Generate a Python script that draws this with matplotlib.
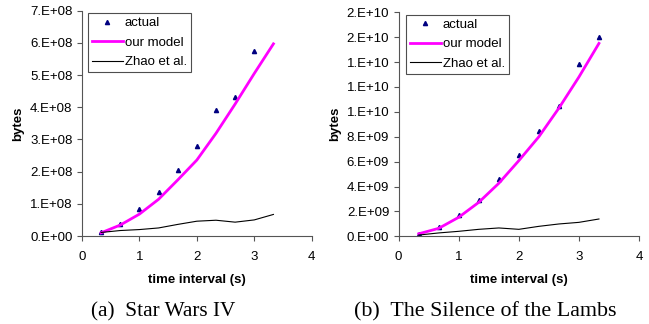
import matplotlib
matplotlib.use("Agg")
import matplotlib.pyplot as plt
from matplotlib.ticker import FuncFormatter, MultipleLocator

# time intervals (s)
t_actual = [1/3, 2/3, 1, 4/3, 5/3, 2, 7/3, 8/3, 3]
t_model = [1/3, 2/3, 1, 4/3, 5/3, 2, 7/3, 8/3, 3, 10/3]

# Star Wars IV (bytes)
sw_actual = [1.1e7, 3.8e7, 8.3e7, 1.37e8, 2.05e8, 2.8e8, 3.9e8, 4.32e8, 5.75e8]
sw_model = [1.0e7, 3.4e7, 6.8e7, 1.14e8, 1.74e8, 2.36e8, 3.19e8, 4.10e8, 5.05e8, 5.97e8]
sw_zhao = [1.1e7, 1.7e7, 2.0e7, 2.5e7, 3.6e7, 4.6e7, 4.9e7, 4.3e7, 5.0e7, 6.7e7]

# The Silence of the Lambs (bytes)
sl_t_actual = [1/3, 2/3, 1, 4/3, 5/3, 2, 7/3, 8/3, 3, 10/3]
sl_actual = [0.16e9, 0.75e9, 1.71e9, 2.95e9, 4.6e9, 6.56e9, 8.46e9, 10.5e9, 13.85e9, 16.0e9]
sl_model = [0.2e9, 0.64e9, 1.53e9, 2.73e9, 4.26e9, 6.08e9, 8.0e9, 10.3e9, 12.8e9, 15.5e9]
sl_zhao = [0.1e9, 0.27e9, 0.4e9, 0.56e9, 0.67e9, 0.56e9, 0.8e9, 0.99e9, 1.12e9, 1.39e9]

captions = ["(a)  Star Wars IV", "(b)  The Silence of the Lambs"]

plt.rcParams["font.family"] = ["Liberation Sans", "DejaVu Sans"]

fig = plt.figure(figsize=(6.49, 3.24), dpi=100)
ax1 = fig.add_axes([0.1263, 0.2716, 0.354, 0.6954])
ax2 = fig.add_axes([0.6143, 0.2707, 0.3703, 0.6914])

sci = FuncFormatter(lambda v, p: format(v, "#.0E"))


def draw(ax, ta, actual, model, zhao, ymax, ystep, leg_x):
    ax.plot(ta, actual, linestyle="none", marker="^", markersize=3.0,
            color="#000080", label="actual")
    ax.plot(t_model, model, color="#FF00FF", lw=2.0, label="our model")
    ax.plot(t_model, zhao, color="black", lw=0.8, label="Zhao et al.")
    ax.set_xlim(0, 4)
    ax.set_ylim(0, ymax)
    ax.xaxis.set_major_locator(MultipleLocator(1))
    ax.yaxis.set_major_locator(MultipleLocator(ystep))
    ax.yaxis.set_major_formatter(sci)
    for s in ("top", "right"):
        ax.spines[s].set_visible(False)
    for s in ("left", "bottom"):
        ax.spines[s].set_color("#555555")
        ax.spines[s].set_linewidth(0.8)
    ax.tick_params(direction="out", length=3.5, width=0.8, color="#555555",
                   labelsize=9.5)
    ax.tick_params(axis="y", pad=3.3)
    ax.tick_params(axis="x", pad=7)
    ax.set_xlabel("time interval (s)", fontsize=9.5, fontweight="bold", labelpad=8)
    ax.set_ylabel("bytes", fontsize=9.5, fontweight="bold", labelpad=4)
    leg = ax.legend(loc="upper left", bbox_to_anchor=(leg_x, 0.99), fontsize=9.5,
                    frameon=True, fancybox=False, handlelength=2.35,
                    handletextpad=0.15, borderpad=0.3, labelspacing=0.55,
                    borderaxespad=0.0)
    leg.get_frame().set_edgecolor("#222222")
    leg.get_frame().set_linewidth(0.8)


draw(ax1, t_actual, sw_actual, sw_model, sw_zhao, 7e8, 1e8, 0.026)
draw(ax2, sl_t_actual, sl_actual, sl_model, sl_zhao, 1.8e10, 2e9, 0.03)

serif = ["Liberation Serif", "DejaVu Serif"]
fig.text(0.251, 0.022, captions[0], ha="center", va="baseline",
         fontsize=15.3, family=serif)
fig.text(0.747, 0.022, captions[1], ha="center", va="baseline",
         fontsize=15.8, family=serif)

fig.savefig("out.png", dpi=100)
